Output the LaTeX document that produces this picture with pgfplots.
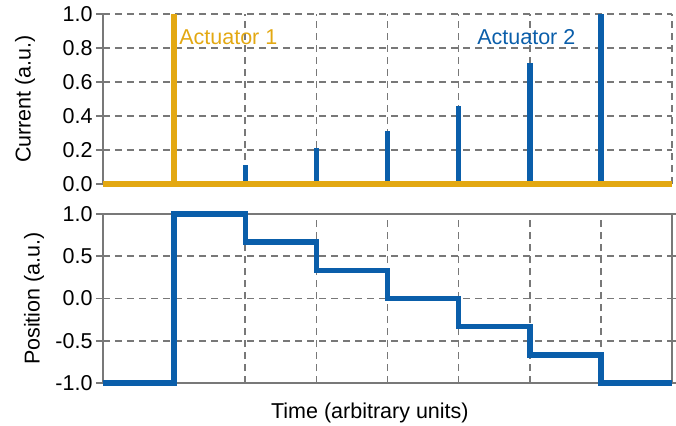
\documentclass[border=0pt]{standalone}
\usepackage{fontspec}
\setmainfont{Liberation Sans}
\usepackage{pgfplots}
\pgfplotsset{compat=1.18}
\usetikzlibrary{calc}
\definecolor{act1}{RGB}{227,168,18}
\definecolor{act2}{RGB}{10,94,170}
\definecolor{gridgray}{RGB}{120,120,120}
\begin{document}
\begin{tikzpicture}
\pgfplotsset{
  common/.style={
    scale only axis, width=569pt, xmin=0, xmax=8,
    xtick={1,...,8}, xticklabels={},
    xtick style={draw=none},
    xmajorgrids, ymajorgrids,
    major grid style={gridgray, line width=1.6pt, dash pattern=on 7pt off 5pt},
    ytick style={gridgray, line width=1.6pt},
    major tick length=7pt,
    tick align=outside,
    axis line style={-, gridgray, line width=1.6pt},
    /pgf/number format/assume math mode=true,
    yticklabel style={/pgf/number format/.cd, fixed, fixed zerofill, precision=1},
    font=\fontsize{21.5}{25}\selectfont,
    clip=false,
  }
}
\begin{axis}[common, name=top, height=170pt,
  ymin=0, ymax=1, ytick={0,0.2,0.4,0.6,0.8,1.0},
  axis y line*=left, axis x line*=bottom,
  every outer x axis line/.append style={-}, every outer y axis line/.append style={-},
  ylabel={Current (a.u.)},
  ylabel style={at={(axis description cs:-0.137,0.5)}, anchor=center},
]
\addplot[act2, line width=5.5pt, ycomb, mark=none] coordinates {(2,0.11) (3,0.21) (4,0.31) (5,0.46) (6,0.71) (7,1.0)};
\addplot[act1, line width=5.5pt] coordinates {(0,0) (8,0)};
\addplot[act1, line width=5.5pt] coordinates {(1,0) (1,1)};
\node[anchor=west, inner sep=0pt, text=act1] at (axis cs:1.07,0.865) {Actuator 1};
\node[anchor=west, inner sep=0pt, text=act2] at (axis cs:5.26,0.865) {Actuator 2};
\end{axis}
\begin{axis}[common, name=bot, at={($(top.south west)+(0pt,-30pt)$)}, anchor=north west, height=169pt,
  ymin=-1, ymax=1, ytick={-1,-0.5,0,0.5,1},
  ylabel={Position (a.u.)},
  ylabel style={at={(axis description cs:-0.121,0.5)}, anchor=center},
  xlabel={Time (arbitrary units)},
  xlabel style={at={(axis description cs:0.469,-0.178)}, anchor=center},
]
\addplot[act2, line width=5.5pt] coordinates {(0,-1) (1,-1) (1,1) (2,1) (2,0.667) (3,0.667) (3,0.333) (4,0.333) (4,0) (5,0) (5,-0.333) (6,-0.333) (6,-0.667) (7,-0.667) (7,-1) (8,-1)};
\end{axis}
\pgfresetboundingbox
\path[use as bounding box] ($(bot.south west)+(-103pt,-42pt)$) rectangle ($(bot.south west)+(573pt,383pt)$);
\end{tikzpicture}
\end{document}
